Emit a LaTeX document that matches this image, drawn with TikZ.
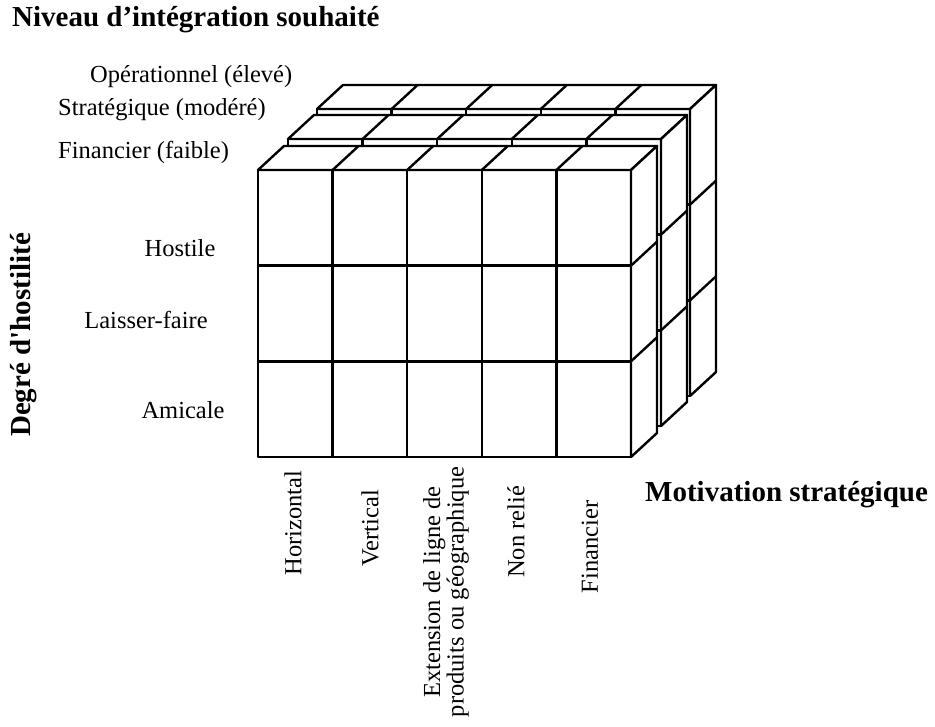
\documentclass[tikz,border=0pt]{standalone}
\usepackage{fontspec}
\setmainfont{Liberation Serif}[Ligatures=TeXOff]
\usepackage{tikz}

\tikzset{
 bloc/.style={draw=black,fill=white,line width=2.4pt,line join=round},
 trait/.style={line width=2.4pt},
 etiq/.style={inner sep=0pt,font=\fontsize{24.5}{22}\selectfont},
 titre/.style={inner sep=0pt,font=\fontsize{29}{32}\selectfont\bfseries},
}

\begin{document}
\begin{tikzpicture}[x=1pt,y=-1pt]
 \useasboundingbox (0,0) rectangle (935,727);
 % three slabs, back to front
 \foreach \ox/\oy in {59/-61,30/-31,0/0}{
  \begin{scope}[shift={(\ox,\oy)}]
   \draw[bloc] (258,170) rectangle (631,457); 
   \foreach \i in {1,...,4} \draw[trait] (258+\i*74.6,170) -- (258+\i*74.6,457);
   \foreach \j in {1,2} \draw[trait] (258,170+\j*95.67) -- (631,170+\j*95.67);
   \draw[bloc] (258,170)--(631,170)--(657,146)--(284,146)--cycle; 
   \foreach \i in {1,...,4} \draw[trait] (258+\i*74.6,170) -- ++(26,-24);
   \draw[bloc] (631,170)--(657,146)--(657,433)--(631,457)--cycle; 
   \foreach \j in {1,2} \draw[trait] (631,170+\j*95.67) -- ++(26,-24);
  \end{scope}}
 % labels
 \node[titre,anchor=west] (niveau) at (12,20) {Niveau d’intégration souhaité};
 \node[etiq,anchor=west] (oper) at (90,77) {Opérationnel (élevé)};
 \node[etiq,anchor=west] (strat) at (58,110) {Stratégique (modéré)};
 \node[etiq,anchor=west] (fin) at (58,152) {Financier (faible)};
 \node[titre,rotate=90] (degre) at (24,335) {Degré d'hostilité};
 \node[etiq] (hostile) at (180,248) {Hostile};
 \node[etiq] (laisser) at (146,320) {Laisser-faire};
 \node[etiq] (amicale) at (183,410) {Amicale};
 \node[titre,anchor=west] (motiv) at (645,495) {Motivation stratégique};
 \node[etiq,rotate=90] (horiz) at (293,523) {Horizontal};
 \node[etiq,rotate=90] (vert) at (370,528) {Vertical};
 \node[etiq,rotate=90,align=center] (ext) at (446,592) {Extension de ligne de\\produits ou géographique};
 \node[etiq,rotate=90] (nonrel) at (516,532) {Non relié};
 \node[etiq,rotate=90] (financ) at (590,547) {Financier};
\end{tikzpicture}
\end{document}
